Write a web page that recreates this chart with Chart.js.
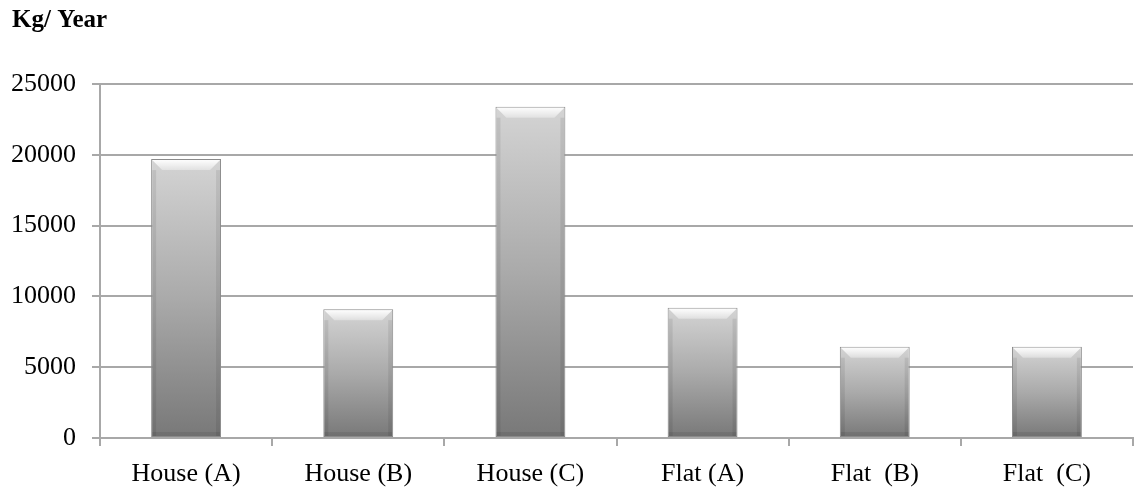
<!DOCTYPE html>
<html>
<head>
<meta charset="utf-8">
<script src="https://cdn.jsdelivr.net/npm/chart.js@4/dist/chart.umd.min.js"></script>
<style>
  html, body { margin: 0; padding: 0; background: #fff; }
  #wrap { width: 1135px; height: 488px; }
</style>
</head>
<body>
<div id="wrap"><canvas id="chartKg"></canvas></div>
<script>
// données
var categories = ['House (A)', 'House (B)', 'House (C)', 'Flat (A)', 'Flat  (B)', 'Flat  (C)'];
var kgYear = [19700, 9100, 23400, 9200, 6450, 6450];
var yTicks = [0, 5000, 10000, 15000, 20000, 25000];

var gridColor = '#a8a8a8';

/**
 * Dégradé vertical propre à chaque barre
 */
function barGradient(context) {
    let chart = context.chart;
    if (!chart.chartArea || context.raw === undefined) return '#a8a8a8';
    let y = chart.scales.y;
    let top = y.getPixelForValue(context.raw);
    let base = y.getPixelForValue(0);
    let g = chart.ctx.createLinearGradient(0, top, 0, base);
    g.addColorStop(0, '#d4d4d4');
    g.addColorStop(0.5, '#aaaaaa');
    g.addColorStop(1, '#787878');
    return g;
}

// effet biseauté sur le haut et les côtés des barres
var bevelPlugin = {
    id: 'bevel',
    afterDatasetsDraw: function (chart) {
        let ctx = chart.ctx;
        chart.getDatasetMeta(0).data.forEach(function (bar) {
            let x0 = bar.x - bar.width / 2, x1 = bar.x + bar.width / 2;
            let y0 = bar.y, y1 = bar.base;
            let b = 11;
            ctx.save();
            // côtés
            ctx.fillStyle = 'rgba(0,0,0,0.08)';
            ctx.fillRect(x0 + 1, y0 + b, 4, y1 - y0 - b - 1);
            ctx.fillRect(x1 - 5, y0 + b, 4, y1 - y0 - b - 1);
            // bas
            ctx.fillStyle = 'rgba(0,0,0,0.08)';
            ctx.fillRect(x0 + 1, y1 - 5, x1 - x0 - 2, 4);
            // haut clair
            let g = ctx.createLinearGradient(0, y0, 0, y0 + b);
            g.addColorStop(0, 'rgba(255,255,255,1)');
            g.addColorStop(1, 'rgba(255,255,255,0.35)');
            ctx.fillStyle = g;
            ctx.beginPath();
            ctx.moveTo(x0 + 1, y0 + 1);
            ctx.lineTo(x1 - 1, y0 + 1);
            ctx.lineTo(x1 - b, y0 + b);
            ctx.lineTo(x0 + b, y0 + b);
            ctx.closePath();
            ctx.fill();
            ctx.restore();
        });
    }
};

let ctx = document.getElementById('chartKg').getContext('2d');
new Chart(ctx, {
    type: 'bar',
    data: {
        labels: categories,
        datasets: [{
            label: 'Kg/ Year',
            data: kgYear,
            backgroundColor: barGradient,
            borderColor: '#8a8a8a',
            borderWidth: 1,
            borderSkipped: false,
            categoryPercentage: 1,
            barPercentage: 0.406
        }]
    },
    options: {
        responsive: true,
        maintainAspectRatio: false,
        animation: false,
        layout: { padding: { left: 12, right: 2, top: 0, bottom: 0 } },
        plugins: {
            legend: { display: false },
            tooltip: { enabled: false },
            title: {
                display: true,
                text: 'Kg/ Year',
                align: 'start',
                color: '#000',
                font: { family: 'Liberation Serif', size: 25, weight: 'bold' },
                padding: { top: 6, bottom: 48 }
            }
        },
        scales: {
            x: {
                afterFit: function (axis) { axis.height = 50; },
                grid: {
                    offset: true,
                    drawOnChartArea: false,
                    drawTicks: true,
                    tickLength: 8,
                    color: gridColor,
                    lineWidth: 2
                },
                border: { color: gridColor, width: 2 },
                ticks: {
                    color: '#000',
                    padding: 13,
                    font: { family: 'Liberation Serif', size: 26 },
                    maxRotation: 0
                }
            },
            y: {
                min: 0,
                max: 25000,
                afterFit: function (axis) { axis.width = 88; },
                afterBuildTicks: function (axis) {
                    axis.ticks = yTicks.map(function (v) { return { value: v }; });
                },
                grid: {
                    color: gridColor,
                    lineWidth: 2,
                    tickLength: 8
                },
                border: { color: gridColor, width: 2 },
                ticks: {
                    color: '#000',
                    padding: 16,
                    font: { family: 'Liberation Serif', size: 26 },
                    callback: function (value) { return String(value); }
                }
            }
        }
    },
    plugins: [bevelPlugin]
});
</script>
</body>
</html>
